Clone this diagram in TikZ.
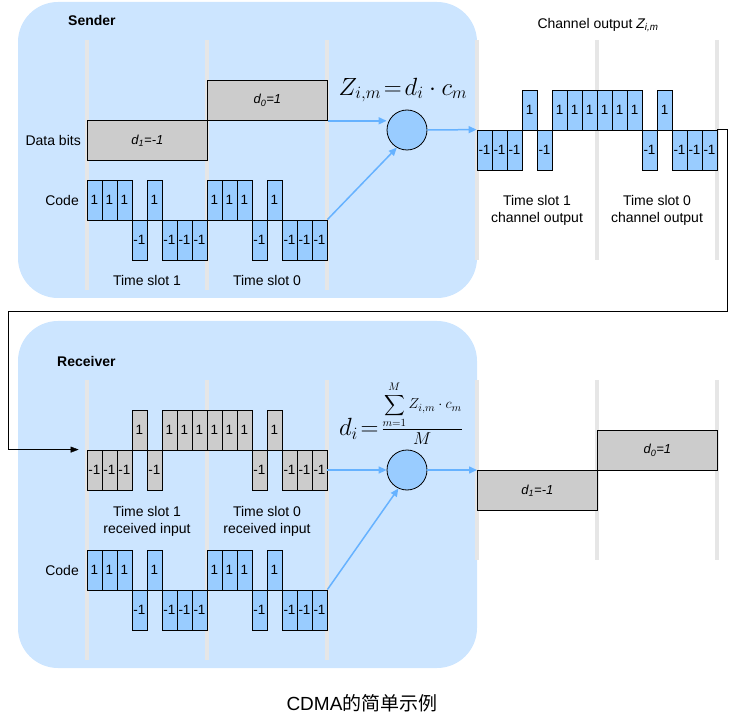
\documentclass[tikz,border=0pt]{standalone}
\usepackage{exscale}
\usepackage{fontspec}
\setmainfont{Liberation Sans}
\newfontfamily\cjk{Noto Sans CJK SC}
\usetikzlibrary{arrows.meta}
\definecolor{boxbg}{HTML}{CCE5FF}
\definecolor{chipblue}{HTML}{99CCFF}
\definecolor{chipgray}{HTML}{CCCCCC}
\definecolor{flowblue}{HTML}{66B2FF}
\definecolor{slotgray}{HTML}{E6E6E6}
\tikzset{
  chipbox/.style={draw=black,line width=0.8,minimum width=15,minimum height=40,inner sep=0,font=\fontsize{13.5}{14}\selectfont},
  databox/.style={draw=black,line width=0.8,fill=chipgray,minimum width=120,minimum height=40,inner sep=0,font=\fontsize{13}{14}\selectfont\itshape},
  lbl/.style={inner sep=0,font=\fontsize{14}{17}\selectfont,align=center},
  title/.style={inner sep=0,font=\fontsize{14}{17}\selectfont\bfseries},
  slotline/.style={draw=slotgray,line width=4},
  mixer/.style={circle,draw=black,line width=0.8,fill=chipblue,minimum size=40,inner sep=0},
  flow/.style={draw=flowblue,line width=1.5,-{Triangle[length=8,width=7]}},
  formula/.style={inner sep=0,font=\fontsize{27}{30}\selectfont}
}
% one row of chips: name, left x, baseline y, fill, values
\newcommand\chiprow[5]{%
  \foreach \v [count=\k] in {#5}{%
    \node[chipbox,fill=#4] (#1-\k) at ({#2+15*\k-7.5},{#3-20*\v}) {\v};
  }%
}
\begin{document}
\begin{tikzpicture}[x=1pt,y=-1pt]
\useasboundingbox (0,0) rectangle (737,722);
% sender and receiver backgrounds
\fill[boxbg,rounded corners=40] (18,2) rectangle (477,298);
\fill[boxbg,rounded corners=40] (18,321) rectangle (477,668);
% time slot borders
\foreach \x in {87,207,327}{
  \draw[slotline] (\x,40) -- (\x,290);
  \draw[slotline] (\x,380) -- (\x,660);
}
\foreach \x in {477,597,717}{
  \draw[slotline] (\x,40) -- (\x,260);
  \draw[slotline] (\x,380) -- (\x,560);
}
% sender
\node[title,anchor=west] (sender) at (68,20) {Sender};
\node[lbl,anchor=east] (databits) at (81,140) {Data bits};
\node[lbl,anchor=east] (codes) at (79,200) {Code};
\node[databox,anchor=north west] (d1s) at (87,120) {d\textsubscript{1}=-1};
\node[databox,anchor=north west] (d0s) at (207,80) {d\textsubscript{0}=1};
\chiprow{cs}{87}{220}{chipblue}{1,1,1,-1,1,-1,-1,-1,1,1,1,-1,1,-1,-1,-1}
\node[lbl] (slot1s) at (147,280) {Time slot 1};
\node[lbl] (slot0s) at (267,280) {Time slot 0};
\node[mixer] (snd) at (407,130) {};
\node[formula] (zform) at (403,90) {$Z_{i,m}\!=\!d_i\cdot c_m$};
\draw[flow] (d0s.south east) -- (d0s.south east -| snd.west);
\draw[flow] (cs-16.north east) -- (snd.240);
% channel output
\node[lbl] (chout) at (598,25) {Channel output \textit{Z\textsubscript{i,m}}};
\chiprow{co}{477}{130}{chipblue}{-1,-1,-1,1,-1,1,1,1,1,1,1,-1,1,-1,-1,-1}
\draw[flow] (snd.east) -- (co-1.north west);
\node[lbl] (slot1c) at (537,210) {Time slot 1\\channel output};
\node[lbl] (slot0c) at (657,210) {Time slot 0\\channel output};
% receiver
\chiprow{ri}{87}{450}{chipgray}{-1,-1,-1,1,-1,1,1,1,1,1,1,-1,1,-1,-1,-1}
\coordinate (back) at (8,311);
\coordinate (rin) at ([xshift=-8]ri-1.north west);
\draw[-{Triangle[length=8,width=6]}] (co-16.north east) -- ++(10,0) |- (back) |- (rin);
\node[title,anchor=west] (receiver) at (57,361) {Receiver};
\node[lbl] (slot1r) at (147,521) {Time slot 1\\received input};
\node[lbl] (slot0r) at (267,521) {Time slot 0\\received input};
\node[lbl,anchor=east] (coder) at (79,570) {Code};
\chiprow{cr}{87}{590}{chipblue}{1,1,1,-1,1,-1,-1,-1,1,1,1,-1,1,-1,-1,-1}
\node[mixer] (rcv) at (407,470) {};
\node[formula] (dform) at (401,413) {$d_i\!=\!\frac{\hbox{\fontsize{15}{15}\selectfont$\displaystyle\sum_{m=1}^{M} Z_{i,m}\cdot c_m$}}{M}$};
\draw[flow] (ri-16.east) -- (rcv.west);
\draw[flow] (cr-16.north east) -- (rcv.245);
\node[databox,anchor=north west] (d1r) at (477,470) {d\textsubscript{1}=-1};
\node[databox,anchor=north west] (d0r) at (597,430) {d\textsubscript{0}=1};
\draw[flow] (rcv.east) -- (d1r.north west);
% caption
\node[inner sep=0,font=\fontsize{19}{22}\selectfont] (caption) at (362,703) {CDMA{\cjk 的简单示例}};
\end{tikzpicture}
\end{document}
